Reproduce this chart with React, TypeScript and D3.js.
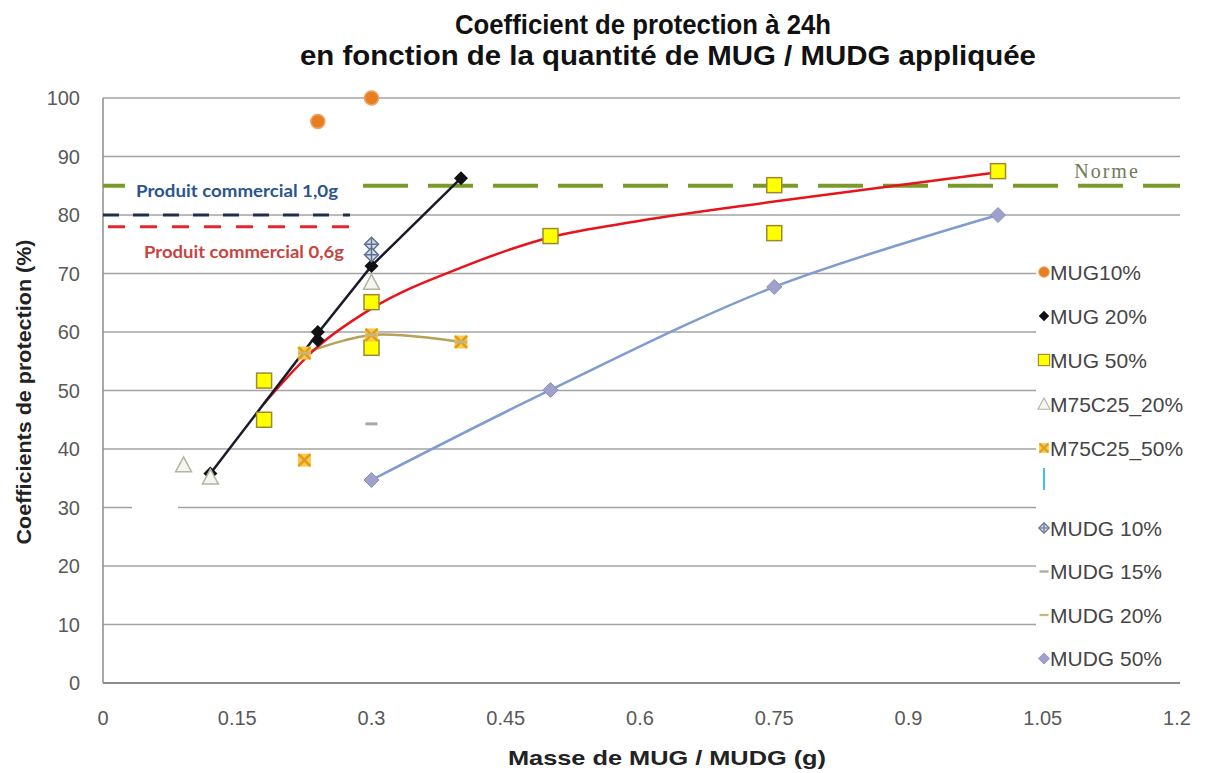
import React from 'react';
import * as d3 from 'd3';

const W = 1214;
const H = 773;

const xTicks = [0, 0.15, 0.3, 0.45, 0.6, 0.75, 0.9, 1.05, 1.2];
const yTicks = [0, 10, 20, 30, 40, 50, 60, 70, 80, 90, 100];

// points
const mug10X = [0.24, 0.3];
const mug10Y = [96, 100];

const mug20X = [0.12, 0.24, 0.24, 0.3, 0.4];
const mug20Y = [35.8, 60, 58.6, 71.3, 86.3];
const mug20LineX = [0.12, 0.24, 0.3, 0.4];
const mug20LineY = [35.8, 59.8, 71.3, 86.3];

const mug50X = [0.18, 0.18, 0.3, 0.3, 0.5, 0.75, 0.75, 1.0];
const mug50Y = [51.7, 45, 65.1, 57.3, 76.4, 85.1, 76.9, 87.5];
const mug50TrendX = [0.18, 0.24, 0.3, 0.4, 0.5, 0.6, 0.75, 1.0];
const mug50TrendY = [47.8, 57.5, 64, 71, 76.2, 79, 82.3, 87.3];

const m75c25_20X = [0.09, 0.12, 0.3];
const m75c25_20Y = [37.3, 35.2, 68.5];

const m75c25_50X = [0.225, 0.225, 0.3, 0.4];
const m75c25_50Y = [38.1, 56.4, 59.5, 58.3];

const mudg10X = [0.3, 0.3];
const mudg10Y = [75, 73.2];

const mudg15X = [0.3];
const mudg15Y = [44.3];

const mudg20X = [0.225, 0.3, 0.4];
const mudg20Y = [56.4, 59.5, 58.3];

const mudg50X = [0.3, 0.5, 0.75, 1.0];
const mudg50Y = [34.7, 50.1, 67.7, 80];

const normeY = 85;
const produit10Y = 80;
const produit06Y = 78;

const legendTop = ['MUG10%', 'MUG 20%', 'MUG 50%', 'M75C25_20%', 'M75C25_50%'];
const legendBottom = ['MUDG 10%', 'MUDG 15%', 'MUDG 20%', 'MUDG 50%'];

const x = d3.scaleLinear().domain([0, 1.2]).range([103, 1177]);
const y = d3.scaleLinear().domain([0, 100]).range([683, 98]);

const zip = (xs: number[], ys: number[]) => xs.map((v, i) => [v, ys[i]] as [number, number]);

const line = (curve: d3.CurveFactory) =>
  d3.line<[number, number]>().x(d => x(d[0])).y(d => y(d[1])).curve(curve);

type Kind = 'circle' | 'diamond' | 'square' | 'triangle' | 'm75' | 'mudg10' | 'dash15' | 'dash20' | 'mudg50';

const Marker = ({ kind, cx, cy, s = 1 }: { kind: Kind; cx: number; cy: number; s?: number }) => {
  const t = `translate(${cx},${cy}) scale(${s})`;
  switch (kind) {
    case 'circle':
      return <circle transform={t} r={7} fill="#E67E22" stroke="#F2A25E" strokeWidth={1.5} />;
    case 'diamond':
      return <path transform={t} d="M0,-7L7,0L0,7L-7,0Z" fill="#111" />;
    case 'square':
      return <rect transform={t} x={-7.5} y={-7.5} width={15} height={15} fill="#FFFF00" stroke="#9C8A30" strokeWidth={1.5} />;
    case 'triangle':
      return <path transform={t} d="M0,-8L8,7L-8,7Z" fill="#F6F6F0" stroke="#B4B4A4" strokeWidth={1.5} />;
    case 'm75':
      return (
        <g transform={t}>
          <rect x={-6.5} y={-6.5} width={13} height={13} fill="#F6CB4A" />
          <path d="M-6,-6L6,6M6,-6L-6,6" stroke="#E39A1A" strokeWidth={2.5} />
        </g>
      );
    case 'mudg10':
      return (
        <g transform={t}>
          <path d="M0,-7L7,0L0,7L-7,0Z" fill="#D5DCE8" stroke="#5C7090" strokeWidth={1.5} />
          <path d="M0,-6V6M-6,0H6" stroke="#5C7090" strokeWidth={1.5} />
        </g>
      );
    case 'dash15':
      return <rect transform={t} x={-6} y={-1.5} width={12} height={3} fill="#A8A8A8" />;
    case 'dash20':
      return <rect transform={t} x={-6} y={-1.5} width={12} height={3} fill="#C8B57A" />;
    case 'mudg50':
      return <path transform={t} d="M0,-7.5L7.5,0L0,7.5L-7.5,0Z" fill="#9FA0CC" stroke="#8C8EC0" strokeWidth={1} />;
  }
};

const points = (xs: number[], ys: number[], kind: Kind) =>
  zip(xs, ys).map((d, i) => <Marker key={kind + i} kind={kind} cx={x(d[0])} cy={y(d[1])} />);

const topKinds: Kind[] = ['circle', 'diamond', 'square', 'triangle', 'm75'];
const bottomKinds: Kind[] = ['mudg10', 'dash15', 'dash20', 'mudg50'];

export default function App() {
  const sans = 'Liberation Sans, Arial, sans-serif';
  const tickFont = { fontFamily: sans, fontSize: 20, fill: '#595959' };
  return (
    <svg width={W} height={H} style={{ position: 'absolute', left: 0, top: 0, background: '#fff' }}>
      {/* titre */}
      <g fontFamily={sans} fontWeight="bold" fill="#111" textAnchor="middle">
        <text x={643} y={34} fontSize={27} textLength={376} lengthAdjust="spacingAndGlyphs">Coefficient de protection à 24h</text>
        <text x={668} y={65} fontSize={27} textLength={736} lengthAdjust="spacingAndGlyphs">en fonction de la quantité de MUG / MUDG appliquée</text>
      </g>

      {/* grille */}
      {yTicks.filter(v => v > 0).map(v => (
        <line key={v} x1={x(0)} x2={1180} y1={y(v)} y2={y(v)} stroke="#A3A3A3" strokeWidth={1.4} />
      ))}
      <line x1={x(0)} x2={x(0)} y1={y(100)} y2={y(0)} stroke="#8C8C8C" strokeWidth={1.5} />
      <line x1={x(0)} x2={1180} y1={y(0)} y2={y(0)} stroke="#8C8C8C" strokeWidth={2} />

      {yTicks.map(v => (
        <text key={v} x={80} y={y(v)} dy="0.35em" textAnchor="end" {...tickFont}>{v}</text>
      ))}
      {xTicks.map(v => (
        <text key={v} x={x(v)} y={725} textAnchor="middle" {...tickFont}>{String(v)}</text>
      ))}

      <text x={667} y={765} textAnchor="middle" fontFamily={sans} fontWeight="bold" fontSize={21} fill="#222" textLength={318} lengthAdjust="spacingAndGlyphs">
        Masse de MUG / MUDG (g)
      </text>
      <text transform="translate(31,392) rotate(-90)" textAnchor="middle" fontFamily={sans} fontWeight="bold" fontSize={21} fill="#222" textLength={305} lengthAdjust="spacingAndGlyphs">
        Coefficients de protection (%)
      </text>

      {/* norme et produits commerciaux */}
      <line x1={x(0)} x2={1180} y1={y(normeY)} y2={y(normeY)} stroke="#7A9A2C" strokeWidth={4} strokeDasharray="45 20" />
      <text x={1107} y={178} textAnchor="middle" fontFamily="Liberation Serif, serif" fontSize={20} letterSpacing={2} fill="#6E7A5A">Norme</text>
      <line x1={x(0)} x2={350} y1={y(produit10Y)} y2={y(produit10Y)} stroke="#1F2F4F" strokeWidth={3} strokeDasharray="16 14" />
      <line x1={108} x2={355} y1={y(produit06Y)} y2={y(produit06Y)} stroke="#E0282E" strokeWidth={3} strokeDasharray="17 15" />
      <rect x={125} y={172} width={226} height={34} fill="#fff" />
      <text x={136} y={197} fontFamily="Lato, sans-serif" fontWeight="bold" fontSize={17.5} fill="#2A5590" textLength={202} lengthAdjust="spacingAndGlyphs">Produit commercial 1,0g</text>
      <rect x={132} y={231} width={225} height={34} fill="#fff" />
      <text x={144} y={258} fontFamily="Lato, sans-serif" fontWeight="bold" fontSize={17.5} fill="#C8453F" textLength={200} lengthAdjust="spacingAndGlyphs">Produit commercial 0,6g</text>
      <rect x={132} y={500} width={46} height={22} fill="#fff" />

      {/* séries */}
      <path d={line(d3.curveCatmullRom.alpha(0.5))(zip(mudg50X, mudg50Y)) || ''} fill="none" stroke="#7E9CCF" strokeWidth={2.5} />
      <path d={line(d3.curveCatmullRom.alpha(0.5))(zip(mudg20X, mudg20Y)) || ''} fill="none" stroke="#B8A05A" strokeWidth={2.5} />
      <path d={line(d3.curveMonotoneX)(zip(mug50TrendX, mug50TrendY)) || ''} fill="none" stroke="#E8141B" strokeWidth={2.5} />
      <path d={line(d3.curveLinear)(zip(mug20LineX, mug20LineY)) || ''} fill="none" stroke="#1A1A2A" strokeWidth={2.5} />

      {points(mug10X, mug10Y, 'circle')}
      {points(mug20X, mug20Y, 'diamond')}
      {points(mug50X, mug50Y, 'square')}
      {points(m75c25_20X, m75c25_20Y, 'triangle')}
      {points(m75c25_50X, m75c25_50Y, 'm75')}
      {points(mudg10X, mudg10Y, 'mudg10')}
      {points(mudg15X, mudg15Y, 'dash15')}
      {points(mudg20X, mudg20Y, 'dash20')}
      {points(mudg50X, mudg50Y, 'mudg50')}

      {/* légende */}
      <rect x={1036} y={242} width={178} height={436} fill="#fff" />
      <line x1={1044} x2={1044} y1={468} y2={490} stroke="#3CC4E4" strokeWidth={2} />
      <g fontFamily={sans} fontSize={21} fill="#454545">
        {legendTop.map((l, i) => (
          <g key={l} transform={`translate(0,${272 + i * 44})`}>
            <Marker kind={topKinds[i]} cx={1044} cy={0} s={0.75} />
            <text x={1050} y={0} dy="0.36em">{l}</text>
          </g>
        ))}
        {legendBottom.map((l, i) => (
          <g key={l} transform={`translate(0,${528 + i * 43.5})`}>
            <Marker kind={bottomKinds[i]} cx={1044} cy={0} s={0.75} />
            <text x={1050} y={0} dy="0.36em">{l}</text>
          </g>
        ))}
      </g>
    </svg>
  );
}
